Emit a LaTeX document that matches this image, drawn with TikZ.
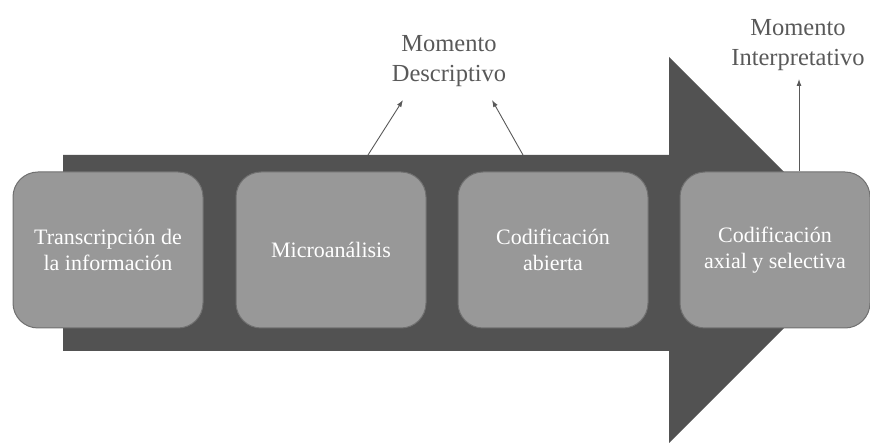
\documentclass[tikz,border=0pt]{standalone}
\usepackage{fontspec}
\setmainfont{Liberation Serif}[Ligatures=TeX]
\newfontfamily\tnr{Liberation Serif}
\usetikzlibrary{arrows.meta}
\definecolor{arrowgray}{HTML}{525252}
\definecolor{boxgray}{HTML}{989898}
\definecolor{boxedge}{HTML}{707070}
\definecolor{labelgray}{HTML}{595959}
\begin{document}
\begin{tikzpicture}[x=1pt,y=-1pt,
  stepbox/.style={draw=boxedge, line width=1pt, fill=boxgray, rounded corners=25pt,
    minimum width=190pt, minimum height=156pt, text=white, align=center, inner sep=0pt,
    font=\tnr\fontsize{22}{26}\selectfont},
  momlabel/.style={text=labelgray, align=center, inner sep=0pt,
    font=\tnr\fontsize{24.5}{30}\selectfont},
  pointer/.style={draw=labelgray, line width=0.9pt, -{Latex[length=7pt,width=5pt]}}]
\useasboundingbox (0,0) rectangle (870,443);
% big arrow
\fill[arrowgray] (63,155) -- (669,155) -- (669,57) -- (862,250) -- (669,443) -- (669,351) -- (63,351) -- cycle;
% boxes
\node[stepbox] (b1) at (108,250) {Transcripción de\\la información};
\node[stepbox] (b2) at (331,250) {Microanálisis};
\node[stepbox] (b3) at (553,250) {Codificación\\abierta};
\node[stepbox] (b4) at (775,250) {Codificación\\axial y selectiva};
% labels
\node[momlabel] (desc) at (449,61) {Momento\\Descriptivo};
\node[momlabel] (interp) at (798,45) {Momento\\Interpretativo};
% connectors
\coordinate (s1) at (368,155);
\coordinate (e1) at (403,100);
\coordinate (s2) at (523,155);
\coordinate (e2) at (492,100);
\coordinate (e3) at (799,79);
\draw[pointer] (s1) -- (e1);
\draw[pointer] (s2) -- (e2);
\draw[pointer] (b4.north -| e3) -- (e3);
\end{tikzpicture}
\end{document}
